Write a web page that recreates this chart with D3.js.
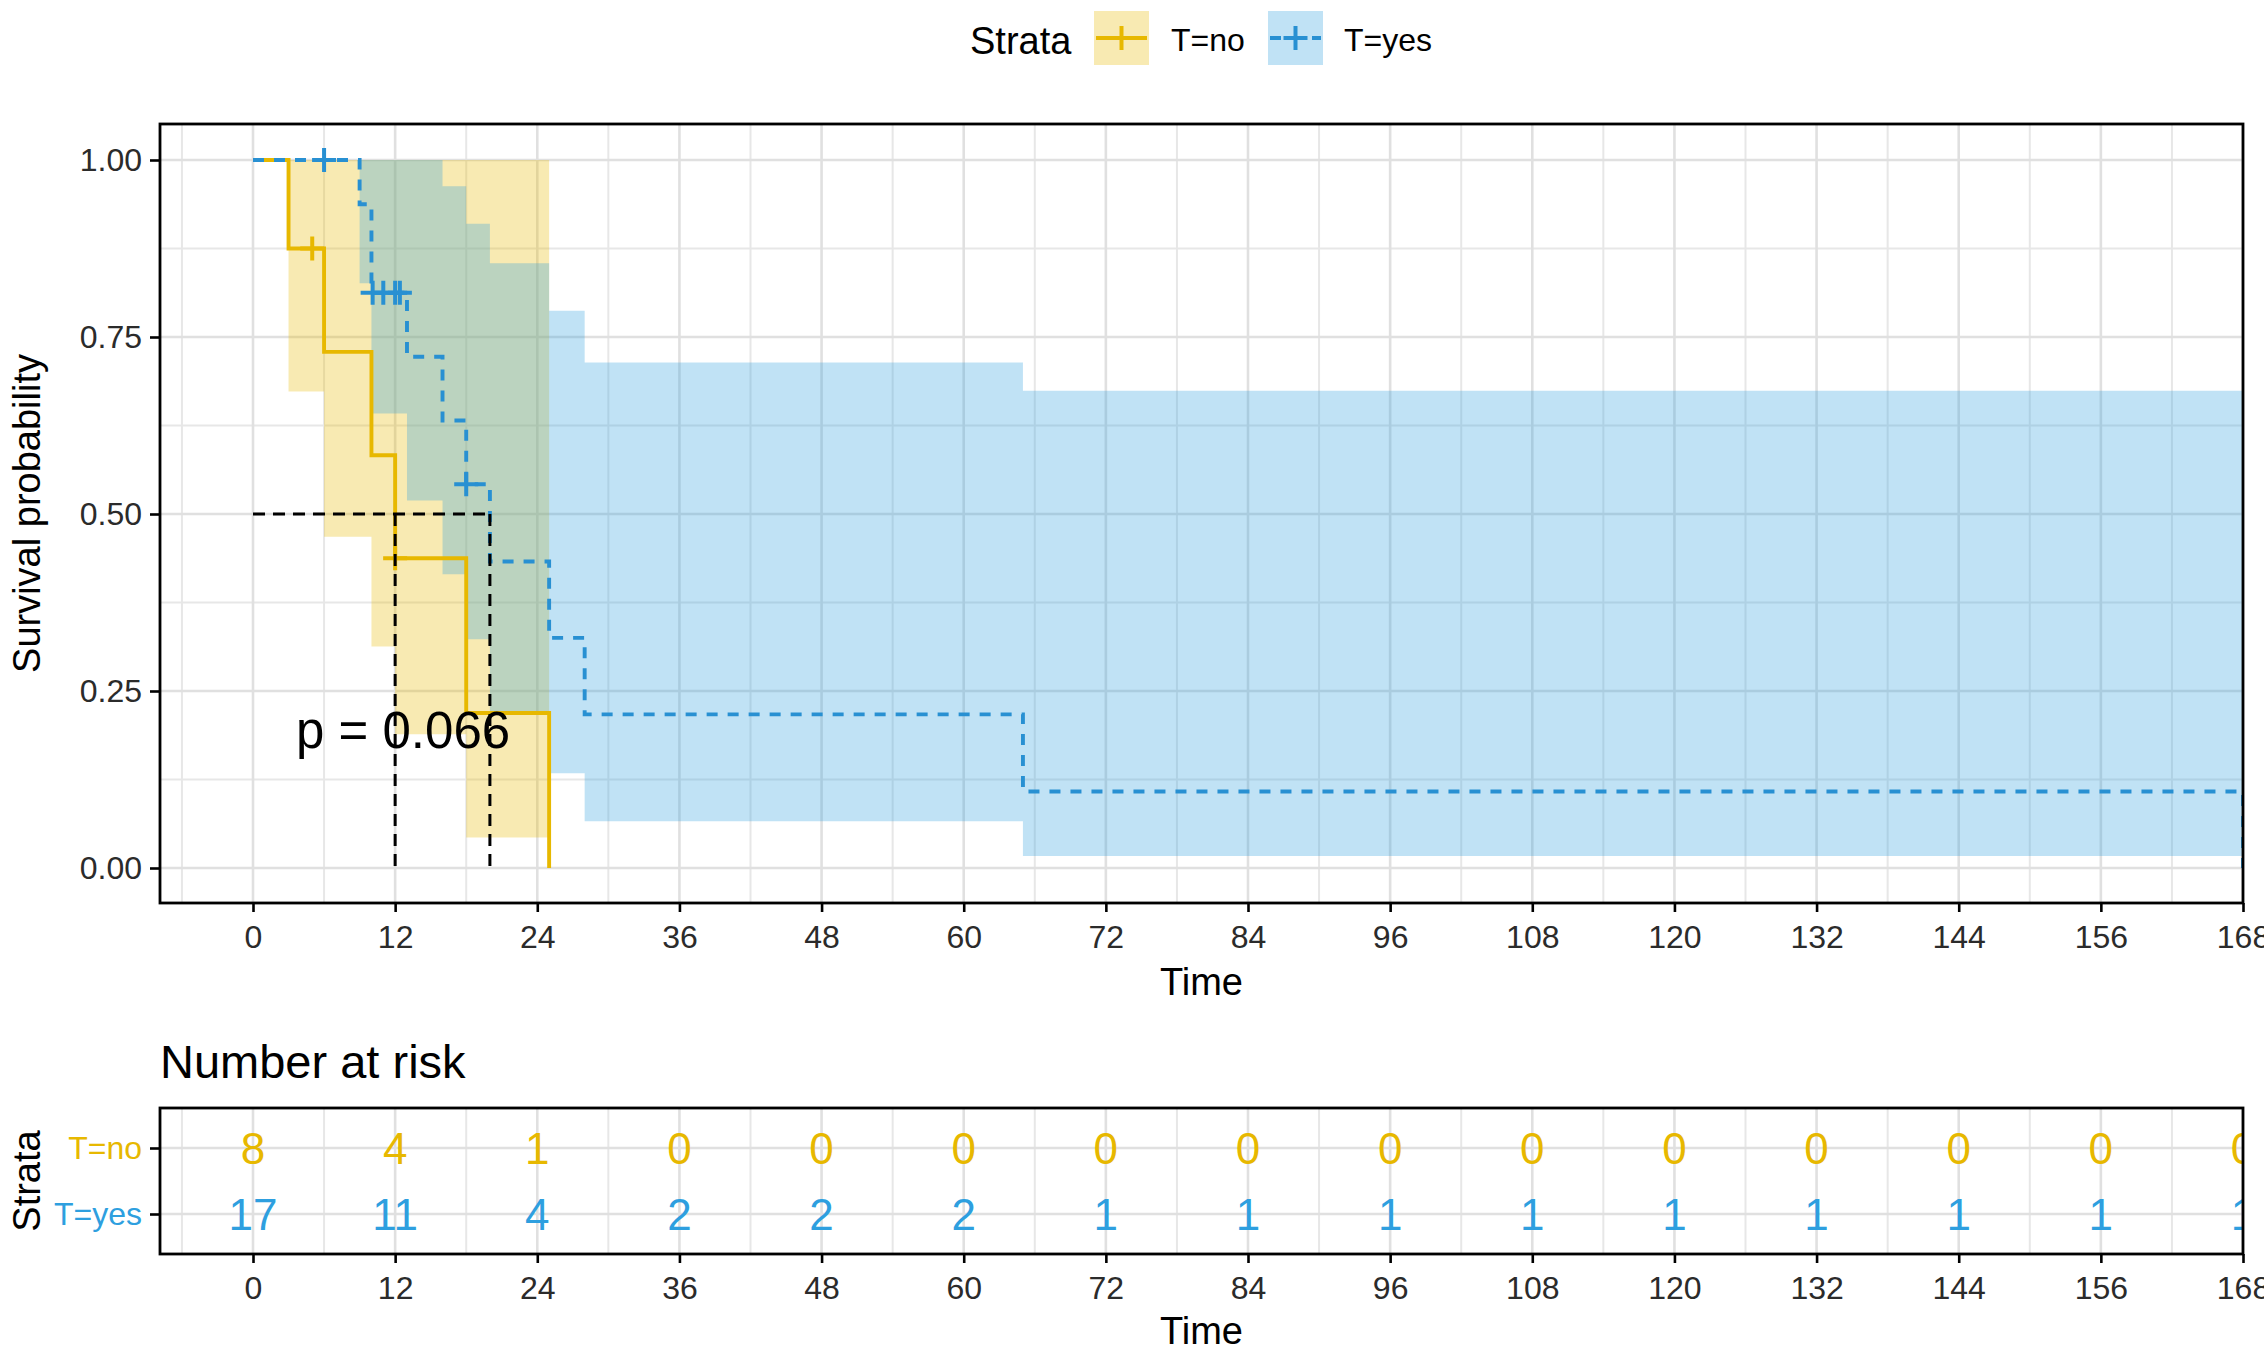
<!DOCTYPE html>
<html>
<head>
<meta charset="utf-8">
<script src="https://cdn.jsdelivr.net/npm/d3@7"></script>
<style>
  html, body { margin: 0; padding: 0; background: #fff; }
  svg { display: block; }
  text { font-family: "Liberation Sans", Arial, sans-serif; }
</style>
</head>
<body>
<svg id="chart" width="2264" height="1351"></svg>
<script>
// ---------------- DATA ----------------
const strata = ["T=no", "T=yes"];
const strataColors = ["#E7B800", "#2E9FDF"];

// T=no : step times, survival after step, CI bounds
const noTime  = [0, 3, 6, 10, 12, 18, 25];
const noSurv  = [1, 0.875, 0.729, 0.583, 0.4375, 0.219, 0];
const noLower = [1, 0.673, 0.468, 0.313, 0.189, 0.043, null];
const noUpper = [1, 1, 1, 1, 1, 1, null];
const noCensor = [5, 12];

// T=yes
const yesTime  = [0, 9, 10, 13, 16, 18, 20, 25, 28, 65, 168];
const yesSurv  = [1, 0.9375, 0.8125, 0.722, 0.632, 0.542, 0.433, 0.325, 0.217, 0.108, 0];
const yesLower = [1, 0.826, 0.642, 0.519, 0.415, 0.323, 0.220, 0.134, 0.066, 0.017, null];
const yesUpper = [1, 1, 1, 1, 0.963, 0.910, 0.854, 0.787, 0.714, 0.674, null];
const yesCensor = [6, 10.1, 11, 12, 12.4, 18];

// medians
const medians = [12, 20];
const pValueLabel = "p = 0.066";

// ticks
const xTicks = [0, 12, 24, 36, 48, 60, 72, 84, 96, 108, 120, 132, 144, 156, 168];
const xMinorTicks = [-6, 6, 18, 30, 42, 54, 66, 78, 90, 102, 114, 126, 138, 150, 162];
const yTicks = [0, 0.25, 0.5, 0.75, 1];
const yTickLabels = ["0.00", "0.25", "0.50", "0.75", "1.00"];
const yMinorTicks = [0.125, 0.375, 0.625, 0.875];

// number at risk
const riskTimes = xTicks;
const riskNo  = [8, 4, 1, 0, 0, 0, 0, 0, 0, 0, 0, 0, 0, 0, 0];
const riskYes = [17, 11, 4, 2, 2, 2, 1, 1, 1, 1, 1, 1, 1, 1, 1];

// ---------------- LAYOUT ----------------
const svg = d3.select("#chart");
const FONT = '"Liberation Sans", Arial, sans-serif';
const panel = { left: 160, right: 2243, top: 124, bottom: 903 };
const rpanel = { left: 160, right: 2243, top: 1108, bottom: 1254 };

const x = d3.scaleLinear().domain([0, 168]).range([253, 2243]);
const y = d3.scaleLinear().domain([0, 1]).range([868, 160]);
const yRisk = d3.scalePoint().domain(strata).range([1148, 1214]);

const gridMajor = "#e0e0e0", gridMinor = "#e7e7e7";
const lineColors = ["#E7B800", "#2890d2"];

// clip paths
const defs = svg.append("defs");
defs.append("clipPath").attr("id", "clipMain").append("rect")
  .attr("x", panel.left).attr("y", panel.top)
  .attr("width", panel.right - panel.left).attr("height", panel.bottom - panel.top);
defs.append("clipPath").attr("id", "clipRisk").append("rect")
  .attr("x", rpanel.left).attr("y", rpanel.top)
  .attr("width", rpanel.right - rpanel.left).attr("height", rpanel.bottom - rpanel.top);

// ---------------- MAIN PLOT ----------------
const main = svg.append("g").attr("clip-path", "url(#clipMain)");

// grid
main.selectAll(".vminor").data(xMinorTicks).join("line")
  .attr("x1", d => x(d)).attr("x2", d => x(d))
  .attr("y1", panel.top).attr("y2", panel.bottom)
  .attr("stroke", gridMinor).attr("stroke-width", 2);
main.selectAll(".hminor").data(yMinorTicks).join("line")
  .attr("y1", d => y(d)).attr("y2", d => y(d))
  .attr("x1", panel.left).attr("x2", panel.right)
  .attr("stroke", gridMinor).attr("stroke-width", 2);
main.selectAll(".vmajor").data(xTicks).join("line")
  .attr("x1", d => x(d)).attr("x2", d => x(d))
  .attr("y1", panel.top).attr("y2", panel.bottom)
  .attr("stroke", gridMajor).attr("stroke-width", 2.6);
main.selectAll(".hmajor").data(yTicks).join("line")
  .attr("y1", d => y(d)).attr("y2", d => y(d))
  .attr("x1", panel.left).attr("x2", panel.right)
  .attr("stroke", gridMajor).attr("stroke-width", 2.6);

function bandPoints(times, lower, upper) {
  const pts = [];
  for (let i = 0; i < times.length - 1; i++) {
    if (lower[i] == null) break;
    pts.push({ t: times[i], lo: lower[i], hi: upper[i] });
  }
  const last = pts[pts.length - 1];
  pts.push({ t: times[pts.length], lo: last.lo, hi: last.hi });
  return pts;
}
function survAt(times, surv, t) {
  let v = surv[0];
  for (let i = 0; i < times.length; i++) if (times[i] <= t) v = surv[i];
  return v;
}

const area = d3.area().curve(d3.curveStepAfter)
  .x(d => x(d.t)).y0(d => y(d.lo)).y1(d => y(d.hi));
const line = d3.line().curve(d3.curveStepAfter)
  .x(d => x(d[0])).y(d => y(d[1]));

const groups = [
  { times: noTime, surv: noSurv, lower: noLower, upper: noUpper, censor: noCensor, fill: strataColors[0], color: lineColors[0], dash: null },
  { times: yesTime, surv: yesSurv, lower: yesLower, upper: yesUpper, censor: yesCensor, fill: strataColors[1], color: lineColors[1], dash: "11,10" }
];

// ribbons
groups.forEach(g => {
  main.append("path").datum(bandPoints(g.times, g.lower, g.upper))
    .attr("d", area).attr("fill", g.fill).attr("fill-opacity", 0.3).attr("stroke", "none");
});
// curves
groups.forEach(g => {
  main.append("path").datum(g.times.map((t, i) => [t, g.surv[i]]))
    .attr("d", line).attr("fill", "none").attr("stroke", g.color)
    .attr("stroke-width", 3.9).attr("stroke-dasharray", g.dash);
});
// censor marks
groups.forEach(g => {
  const cg = main.append("g");
  g.censor.forEach(t => {
    const cx = x(t), cy = y(survAt(g.times, g.surv, t));
    cg.append("path").attr("d", `M${cx - 12},${cy}H${cx + 12}M${cx},${cy - 12}V${cy + 12}`)
      .attr("stroke", g.color).attr("stroke-width", 4).attr("fill", "none");
  });
});
// median lines
main.append("line").attr("x1", x(0)).attr("x2", x(d3.max(medians)))
  .attr("y1", y(0.5)).attr("y2", y(0.5))
  .attr("stroke", "#000").attr("stroke-width", 3).attr("stroke-dasharray", "12,8");
medians.forEach(m => {
  main.append("line").attr("x1", x(m)).attr("x2", x(m))
    .attr("y1", y(0.5)).attr("y2", y(0))
    .attr("stroke", "#000").attr("stroke-width", 3).attr("stroke-dasharray", "12,8");
});
// p-value
main.append("text").attr("x", 296).attr("y", 748).text(pValueLabel)
  .attr("font-size", 51).attr("fill", "#000");

// panel border
svg.append("rect").attr("x", panel.left).attr("y", panel.top)
  .attr("width", panel.right - panel.left).attr("height", panel.bottom - panel.top)
  .attr("fill", "none").attr("stroke", "#000").attr("stroke-width", 2.8);

// axes
const xAxis = svg.append("g").attr("transform", `translate(0,${panel.bottom})`)
  .call(d3.axisBottom(x).tickValues(xTicks).tickSize(9).tickPadding(13).tickFormat(d3.format("d")));
const yAxis = svg.append("g").attr("transform", `translate(${panel.left},0)`)
  .call(d3.axisLeft(y).tickValues(yTicks).tickSize(10).tickPadding(8).tickFormat((d, i) => yTickLabels[i]));
[xAxis, yAxis].forEach(a => {
  a.select(".domain").remove();
  a.selectAll(".tick line").attr("stroke", "#000").attr("stroke-width", 2.6);
  a.selectAll(".tick text").attr("font-size", 32).attr("fill", "#2b2b2b").attr("font-family", FONT);
});

svg.append("text").attr("x", (panel.left + panel.right) / 2).attr("y", 995)
  .attr("text-anchor", "middle").attr("font-size", 38).attr("fill", "#000").text("Time");
svg.append("text").attr("transform", `translate(40,${(panel.top + panel.bottom) / 2}) rotate(-90)`)
  .attr("text-anchor", "middle").attr("font-size", 38).attr("fill", "#000").text("Survival probability");

// ---------------- LEGEND ----------------
const legend = svg.append("g");
legend.append("text").attr("x", 970).attr("y", 54).attr("font-size", 38).attr("fill", "#000").text("Strata");
const legendItems = [
  { x: 1094, label: strata[0], fill: strataColors[0], color: lineColors[0], dash: null, tx: 1171 },
  { x: 1268, label: strata[1], fill: strataColors[1], color: lineColors[1], dash: "11,10", tx: 1344 }
];
legendItems.forEach(it => {
  legend.append("rect").attr("x", it.x).attr("y", 11).attr("width", 55).attr("height", 54)
    .attr("fill", it.fill).attr("fill-opacity", 0.3);
  legend.append("line").attr("x1", it.x + 2).attr("x2", it.x + 53).attr("y1", 38).attr("y2", 38)
    .attr("stroke", it.color).attr("stroke-width", 3.9).attr("stroke-dasharray", it.dash);
  const cx = it.x + 27.5;
  legend.append("path").attr("d", `M${cx - 12},38H${cx + 12}M${cx},26V50`)
    .attr("stroke", it.color).attr("stroke-width", 4);
  legend.append("text").attr("x", it.tx).attr("y", 51).attr("font-size", 32).attr("fill", "#000").text(it.label);
});

// ---------------- RISK TABLE ----------------
svg.append("text").attr("x", 160).attr("y", 1078).attr("font-size", 47).attr("fill", "#000").text("Number at risk");

const risk = svg.append("g").attr("clip-path", "url(#clipRisk)");
risk.selectAll(".rvminor").data(xMinorTicks).join("line")
  .attr("x1", d => x(d)).attr("x2", d => x(d)).attr("y1", rpanel.top).attr("y2", rpanel.bottom)
  .attr("stroke", gridMinor).attr("stroke-width", 2);
risk.selectAll(".rvmajor").data(xTicks).join("line")
  .attr("x1", d => x(d)).attr("x2", d => x(d)).attr("y1", rpanel.top).attr("y2", rpanel.bottom)
  .attr("stroke", gridMajor).attr("stroke-width", 2.6);
risk.selectAll(".rh").data(strata).join("line")
  .attr("x1", rpanel.left).attr("x2", rpanel.right).attr("y1", d => yRisk(d)).attr("y2", d => yRisk(d))
  .attr("stroke", gridMajor).attr("stroke-width", 2.6);

const riskRows = [
  { s: strata[0], vals: riskNo, color: strataColors[0] },
  { s: strata[1], vals: riskYes, color: strataColors[1] }
];
riskRows.forEach(r => {
  risk.selectAll(null).data(riskTimes).join("text")
    .attr("x", d => x(d)).attr("y", yRisk(r.s)).attr("dy", "0.36em")
    .attr("text-anchor", "middle").attr("font-size", 44).attr("fill", r.color)
    .text((d, i) => r.vals[i]);
});

svg.append("rect").attr("x", rpanel.left).attr("y", rpanel.top)
  .attr("width", rpanel.right - rpanel.left).attr("height", rpanel.bottom - rpanel.top)
  .attr("fill", "none").attr("stroke", "#000").attr("stroke-width", 2.8);

const rxAxis = svg.append("g").attr("transform", `translate(0,${rpanel.bottom})`)
  .call(d3.axisBottom(x).tickValues(xTicks).tickSize(9).tickPadding(13).tickFormat(d3.format("d")));
const ryAxis = svg.append("g").attr("transform", `translate(${rpanel.left},0)`)
  .call(d3.axisLeft(yRisk).tickSize(10).tickPadding(8));
[rxAxis, ryAxis].forEach(a => {
  a.select(".domain").remove();
  a.selectAll(".tick line").attr("stroke", "#000").attr("stroke-width", 2.6);
  a.selectAll(".tick text").attr("font-size", 32).attr("fill", "#2b2b2b").attr("font-family", FONT);
});
ryAxis.selectAll(".tick text").attr("fill", (d, i) => strataColors[i]);

svg.append("text").attr("x", (rpanel.left + rpanel.right) / 2).attr("y", 1344)
  .attr("text-anchor", "middle").attr("font-size", 38).attr("fill", "#000").text("Time");
svg.append("text").attr("transform", `translate(40,${(rpanel.top + rpanel.bottom) / 2}) rotate(-90)`)
  .attr("text-anchor", "middle").attr("font-size", 38).attr("fill", "#000").text("Strata");
</script>
</body>
</html>
